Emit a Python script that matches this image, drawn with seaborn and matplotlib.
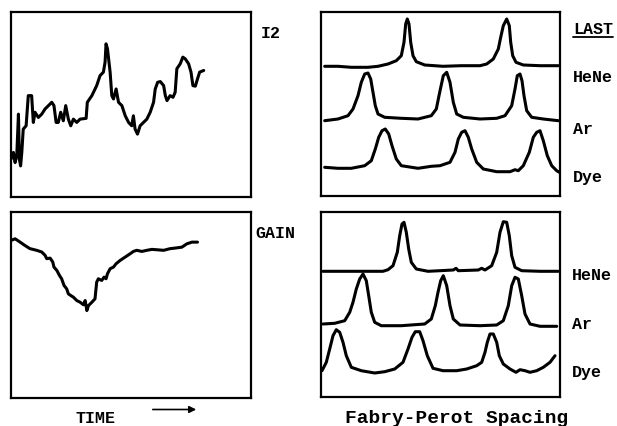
import matplotlib
matplotlib.use("Agg")
import matplotlib.pyplot as plt
import seaborn as sns
import numpy as np

# ---------------- data ----------------
# I2 trace (time 0..100 across the panel, signal 0..100)
i2_time = [0.0, 1.0, 1.7, 2.4, 3.1, 3.5, 4.0, 4.5, 5.1, 6.3, 7.2, 8.6, 9.3, 10.0,
           11.4, 12.8, 14.2, 15.6, 17.0, 17.9, 18.8, 19.7, 20.7, 21.8, 22.8, 23.9,
           24.9, 26.0, 27.4, 28.8, 31.3, 31.8, 33.7, 35.7, 37.1, 38.5, 39.2, 39.6,
           40.2, 41.3, 42.0, 42.7, 43.8, 44.8, 46.2, 47.6, 49.0, 50.3, 51.0, 51.7,
           52.7, 53.8, 55.2, 56.6, 58.0, 59.4, 60.1, 61.1, 62.2, 63.6, 64.3, 65.0,
           66.3, 67.5, 68.4, 69.1, 70.5, 71.6, 72.6, 74.0, 75.0, 75.8, 76.8, 77.7,
           78.6, 80.3]
i2_value = [20.4, 24.1, 18.6, 22.2, 44.8, 20.4, 16.8, 24.1, 36.7, 38.5, 54.8, 54.8,
            40.3, 45.8, 43.0, 44.8, 47.6, 49.4, 51.2, 49.4, 40.3, 40.3, 45.8, 41.2,
            49.4, 42.1, 38.5, 42.1, 40.3, 42.1, 42.5, 51.2, 54.8, 60.2, 65.6, 67.5,
            72.9, 82.8, 80.1, 67.5, 54.8, 53.0, 58.4, 51.2, 49.4, 43.9, 40.3, 38.5,
            43.9, 36.7, 34.0, 38.5, 40.3, 42.1, 45.8, 51.2, 58.4, 62.0, 62.4, 60.2,
            54.8, 52.1, 54.8, 53.9, 56.6, 69.3, 72.0, 75.6, 74.7, 72.0, 67.5, 60.2,
            59.9, 63.8, 67.5, 68.4]

# GAIN trace
gain_time = [0.0, 1.7, 3.8, 5.8, 7.9, 10.7, 12.8, 14.2, 14.9, 16.3, 17.4, 17.9,
             19.1, 20.2, 21.1, 22.1, 23.2, 23.9, 24.9, 26.0, 27.4, 28.8, 30.2, 30.9,
             31.6, 32.3, 33.7, 35.0, 35.7, 36.4, 37.8, 38.8, 39.6, 40.2, 41.3, 42.7,
             43.8, 45.5, 47.6, 49.7, 51.0, 52.4, 54.5, 56.6, 58.7, 60.8, 63.6, 66.3,
             68.4, 71.2, 73.3, 75.4, 77.7]
gain_value = [84.7, 85.6, 83.8, 82.0, 80.3, 79.4, 78.5, 76.7, 74.9, 75.2, 73.1, 70.4,
              68.6, 65.9, 64.1, 60.5, 58.7, 56.0, 55.1, 54.2, 52.4, 51.5, 50.1, 52.4,
              47.0, 49.7, 51.5, 53.3, 62.3, 64.1, 63.2, 65.0, 64.1, 66.8, 69.5, 70.4,
              72.2, 74.0, 75.8, 77.6, 78.8, 79.4, 78.8, 79.4, 79.9, 79.7, 79.4, 80.3,
              80.6, 81.1, 82.9, 83.8, 83.8]

# Fabry-Perot scans, upper panel (scan position 0..239, signal 0..184)
fp1_last_x = [3.7, 17, 30.3, 47, 57, 67, 75.3, 80.3, 83, 84.7, 86.3, 88, 89.7, 92,
              95.3, 103.7, 122, 140, 159, 165.7, 172.3, 177.3, 179.7, 182.3, 185.7,
              188.3, 189.7, 191.7, 195, 202.3, 219, 237.3]
fp1_last_y = [129.7, 129.7, 128.7, 128.7, 129.7, 132, 135.3, 140.3, 153.7, 172, 177,
              172, 153.7, 140.3, 134.3, 131, 129.7, 130.3, 130.3, 132, 137, 147, 158.7,
              170.3, 177, 170.3, 153.7, 140.3, 133.7, 131, 130.3, 130.3]
fp1_mid_x = [3.7, 17, 27, 32, 37, 40.3, 43.7, 47, 49.7, 52, 54.3, 57, 63.7, 80.3, 97,
             110.3, 115.3, 118.7, 122.3, 125.7, 129, 132.3, 135.7, 142.3, 159, 175.7,
             184, 190.7, 194, 196.3, 199, 201, 203, 205.7, 210.7, 222.3, 237.3]
fp1_mid_y = [75.3, 77, 80.3, 87, 100.3, 113.7, 122, 123, 117, 103.7, 90.3, 82, 78.7,
             77.7, 77, 80.3, 87, 103.7, 120.3, 123.7, 113.7, 93.7, 82, 78.7, 77, 77.7,
             80.3, 90.3, 107, 120.3, 122, 115.3, 100.3, 85.3, 78.7, 77, 75.3]
fp1_low_x = [3.7, 17, 30.3, 43.7, 50.3, 54.3, 57.7, 61, 64.3, 67.7, 71, 75.3, 80.3,
             97, 110.3, 119, 129, 134, 137.3, 140.7, 144, 147.3, 150.7, 155.7, 162.3,
             175.7, 189, 194, 197.3, 202.3, 208.3, 212.3, 215.7, 219, 222.3, 226.3,
             230.7, 235.7, 238.3]
fp1_low_y = [28.7, 27.7, 27.7, 30.3, 35.3, 47, 58.7, 65.3, 67, 62, 50.3, 37, 30.3,
             27.7, 29.7, 30.3, 33.7, 43.7, 57, 63.7, 65.3, 58.7, 47, 33.7, 27, 24.3,
             24.3, 26.3, 25.3, 30.3, 43.7, 58.7, 63.7, 65.3, 55.3, 40.3, 30.3, 25.3,
             23.7]

# Fabry-Perot scans, lower panel (scan position 0..239, signal 0..185)
fp2_hene_x = [2, 62, 67, 72, 76.3, 78.7, 81, 83, 85.3, 87.7, 90.3, 95.3, 107, 119,
              132.3, 135, 137.3, 157.3, 160.7, 164, 170.7, 175.7, 179, 182.3, 185.7,
              188.3, 190.7, 194, 200.7, 219, 237.3]
fp2_hene_y = [125.7, 125.7, 127.3, 131.3, 144.7, 161.3, 173, 174.7, 164.7, 148, 134.7,
              128, 125.7, 126.3, 127, 128.7, 126.3, 127, 128.7, 127, 131.3, 144.7,
              164.7, 175.3, 174.7, 161.3, 141.3, 129.7, 126.3, 125.7, 125.7]
fp2_ar_x = [2, 13.7, 23.7, 28.7, 32, 35.3, 38.7, 42, 45.3, 47.7, 50.3, 53.7, 60.3,
            80.3, 103.7, 110.3, 114.3, 117, 119.7, 122.3, 125.7, 129, 132.3, 139, 159,
            175.7, 182.3, 187.3, 190.7, 194, 197.3, 200.7, 204, 209, 219, 235.7]
fp2_ar_y = [73, 73.7, 76.3, 84.7, 94.7, 108, 118, 123, 116.3, 101.3, 84.7, 74.7, 71.3,
            71.3, 73, 78, 91.3, 104.7, 116.3, 121.3, 111.3, 91.3, 78, 72, 71.3, 72,
            76.3, 91.3, 111.3, 119.7, 118, 101.3, 83, 73, 70.7, 70.7]
fp2_dye_x = [1, 5.3, 8.7, 12, 15.3, 18.7, 22, 25.3, 30.3, 40.3, 53.7, 63.7, 73.7, 82,
             87, 91, 94.3, 98.7, 102, 106.3, 112, 122, 135.7, 145.7, 155.7, 160.7, 164,
             166.3, 169, 172.3, 175.7, 178.3, 182.3, 189, 195, 199, 204, 209, 215.7,
             222.3, 229, 234]
fp2_dye_y = [26.3, 34.7, 48, 61.3, 67.3, 64.7, 54.7, 41.3, 29.7, 26.3, 24, 25.3, 28,
             34.7, 48, 59.7, 65.3, 65.3, 56.3, 41.3, 28.7, 26.3, 26.3, 28, 31.3, 34.7,
             44.7, 54.7, 63, 63, 54.7, 41.3, 33, 28, 24.7, 27.3, 26.3, 24.7, 26.3, 29.7,
             34.7, 41.3]

right_labels_top = ["LAST", "HeNe", "Ar", "Dye"]
right_labels_bottom = ["HeNe", "Ar", "Dye"]

# ---------------- figure ----------------
sns.set_style("white")
plt.rcParams["font.family"] = ["Liberation Mono", "DejaVu Sans Mono"]

W, H = 617, 427
fig = plt.figure(figsize=(W / 100, H / 100), dpi=100)


def px_axes(x0, y0, x1, y1):
    return fig.add_axes([x0 / W, 1 - y1 / H, (x1 - x0) / W, (y1 - y0) / H])


ax_i2 = px_axes(11, 13, 251, 198)
ax_gain = px_axes(11, 213, 251, 399)
ax_fp1 = px_axes(321, 13, 560, 197)
ax_fp2 = px_axes(321, 213, 560, 398)

LW = 2.2
kw = dict(color="black", linewidth=LW, sort=False, estimator=None, legend=False)

sns.lineplot(x=i2_time, y=i2_value, ax=ax_i2, **kw)
sns.lineplot(x=gain_time, y=gain_value, ax=ax_gain, **kw)

for xs, ys in [(fp1_last_x, fp1_last_y), (fp1_mid_x, fp1_mid_y), (fp1_low_x, fp1_low_y)]:
    sns.lineplot(x=xs, y=ys, ax=ax_fp1, **kw)
for xs, ys in [(fp2_hene_x, fp2_hene_y), (fp2_ar_x, fp2_ar_y), (fp2_dye_x, fp2_dye_y)]:
    sns.lineplot(x=xs, y=ys, ax=ax_fp2, **kw)

ax_i2.set_xlim(0, 100); ax_i2.set_ylim(0, 100)
ax_gain.set_xlim(0, 100); ax_gain.set_ylim(0, 100)
ax_fp1.set_xlim(0, 239); ax_fp1.set_ylim(0, 184)
ax_fp2.set_xlim(0, 239); ax_fp2.set_ylim(0, 185)

for ax in (ax_i2, ax_gain, ax_fp1, ax_fp2):
    ax.set_xticks([]); ax.set_yticks([])
    ax.set_xlabel(""); ax.set_ylabel("")
    for s in ax.spines.values():
        s.set_visible(True)
        s.set_color("black")
        s.set_linewidth(1.6)

tkw = dict(fontsize=12, fontweight="bold", color="black", va="center", ha="left")


def ftext(x, y, s, **extra):
    d = dict(tkw); d.update(extra)
    return fig.text(x / W, 1 - y / H, s, **d)


ftext(261, 33, "I2")
ftext(255, 234, "GAIN")
ftext(75, 419, "TIME")
ftext(457, 419, "Fabry-Perot Spacing", ha="center", fontsize=14)

for lab, y in zip(right_labels_top, [29, 78, 129, 178]):
    ftext(573, y, lab)
for lab, y in zip(right_labels_bottom, [275, 325, 373]):
    ftext(572, y, lab)

# underline under LAST
fig.add_artist(plt.Line2D([573 / W, 613 / W], [1 - 37.5 / H, 1 - 37.5 / H],
                          color="black", linewidth=1.3))
# time arrow
fig.add_artist(matplotlib.patches.FancyArrowPatch(
    (150 / W, 1 - 410.5 / H), (199 / W, 1 - 410.5 / H),
    transform=fig.transFigure, arrowstyle="-|>", mutation_scale=10,
    color="black", linewidth=1.2))

fig.savefig("out.png", dpi=100)
